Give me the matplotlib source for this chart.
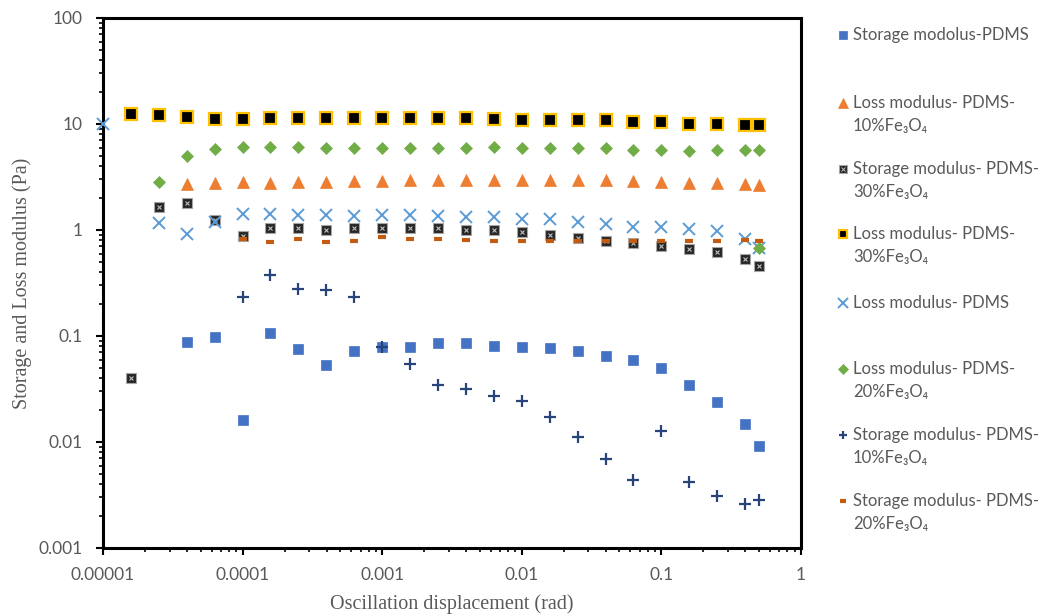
import numpy as np
import matplotlib
matplotlib.use("Agg")
import matplotlib.pyplot as plt
from matplotlib.lines import Line2D
from matplotlib.ticker import FixedLocator, FuncFormatter, LogLocator, NullFormatter

# oscillation displacement (rad), shared measurement grid
disp = [1.0e-5, 1.58e-5, 2.51e-5, 3.98e-5, 6.31e-5,
        1.0e-4, 1.58e-4, 2.51e-4, 3.98e-4, 6.31e-4,
        1.0e-3, 1.58e-3, 2.51e-3, 3.98e-3, 6.31e-3,
        1.0e-2, 1.58e-2, 2.51e-2, 3.98e-2, 6.31e-2,
        0.1, 0.158, 0.251, 0.398, 0.5]

x_storage_pdms = disp[3:]
storage_pdms = [0.087, 0.0986, 0.0161, 0.107, 0.075, 0.053, 0.072, 0.079, 0.079, 0.085, 0.085,
                0.081, 0.079, 0.0776, 0.0727, 0.065, 0.060, 0.0496, 0.0345, 0.024, 0.0148, 0.0092]

x_loss_10 = disp[3:]
loss_10 = [2.72, 2.75, 2.86, 2.80, 2.86, 2.86, 2.92, 2.90, 2.96, 2.96, 2.96,
           2.96, 2.96, 2.96, 2.96, 2.96, 2.90, 2.86, 2.80, 2.75, 2.70, 2.66]

x_storage_30 = disp[1:]
storage_30 = [0.040, 1.66, 1.79, 1.24, 0.88, 1.04, 1.04, 0.99, 1.04, 1.04, 1.04, 1.04,
              1.00, 1.00, 0.95, 0.90, 0.835, 0.79, 0.75, 0.71, 0.66, 0.62, 0.53, 0.46]

x_loss_30 = disp[1:]
loss_30 = [12.4, 12.2, 11.7, 11.1, 11.1, 11.3, 11.3, 11.3, 11.3, 11.3, 11.3, 11.3,
           11.4, 11.2, 11.0, 11.0, 10.8, 10.8, 10.5, 10.4, 10.1, 10.1, 9.85, 9.85]

x_loss_pdms = [disp[0]] + disp[2:]
loss_pdms = [10.1, 1.16, 0.92, 1.20, 1.42, 1.42, 1.38, 1.38, 1.37, 1.38, 1.38, 1.37,
             1.34, 1.34, 1.27, 1.27, 1.18, 1.14, 1.07, 1.06, 1.02, 0.98, 0.82, 0.68]

x_loss_20 = disp[2:] + [0.5]
loss_20 = [2.86, 5.02, 5.81, 6.10, 6.10, 6.10, 5.97, 5.97, 5.97, 5.97, 5.97, 5.90,
           6.10, 5.90, 5.90, 6.00, 5.90, 5.69, 5.69, 5.52, 5.69, 5.69, 5.69, 0.68]

x_storage_10 = disp[5:]
storage_10 = [0.235, 0.376, 0.277, 0.272, 0.235, 0.079, 0.054, 0.0345, 0.0314, 0.0273,
              0.0245, 0.0171, 0.0112, 0.00687, 0.00438, 0.0128, 0.00422, 0.00312, 0.0026, 0.00284]

x_storage_20 = disp[5:]
storage_20 = [0.82, 0.776, 0.82, 0.776, 0.79, 0.85, 0.82, 0.82, 0.805, 0.79,
              0.79, 0.79, 0.79, 0.79, 0.79, 0.79, 0.79, 0.79, 0.80, 0.78]

labels = ["Storage modolus-PDMS",
          "Loss modulus- PDMS-\n10%Fe\u2083O\u2084",
          "Storage modulus- PDMS-\n30%Fe\u2083O\u2084",
          "Loss modulus- PDMS-\n30%Fe\u2083O\u2084",
          "Loss modulus- PDMS",
          "Loss modulus- PDMS-\n20%Fe\u2083O\u2084",
          "Storage modulus- PDMS-\n10%Fe\u2083O\u2084",
          "Storage modulus- PDMS-\n20%Fe\u2083O\u2084"]

x_ticks = [1e-5, 1e-4, 1e-3, 1e-2, 1e-1, 1]
y_ticks = [1e-3, 1e-2, 1e-1, 1, 10, 100]

series = [
    (x_storage_pdms, storage_pdms),
    (x_loss_10, loss_10),
    (x_storage_30, storage_30),
    (x_loss_30, loss_30),
    (x_loss_pdms, loss_pdms),
    (x_loss_20, loss_20),
    (x_storage_10, storage_10),
    (x_storage_20, storage_20),
]

# marker styles in legend order (Excel draws later series on top)
styles = [
    dict(marker='s', ms=7.5, mfc='#4472C4', mec='#4472C4', mew=0.5),
    dict(marker='^', ms=8.5, mfc='#ED7D31', mec='#ED7D31', mew=0.5),
    dict(marker='s', ms=6.5, mfc='#262626', mec='#A6A6A6', mew=0.8),
    dict(marker='s', ms=8, mfc='black', mec='#FFC000', mew=1.6),
    dict(marker='x', ms=8.5, mfc='none', mec='#5B9BD5', mew=1.4),
    dict(marker='D', ms=6.5, mfc='#70AD47', mec='#70AD47', mew=0.5),
    dict(marker='+', ms=8, mfc='none', mec='#264478', mew=1.6),
    dict(marker='_', ms=5.5, mfc='#C55A11', mec='#C55A11', mew=3.0),
]

text_gray = '#595959'
serif = ['Liberation Serif', 'DejaVu Serif']
sans = ['Lato', 'DejaVu Sans']

fig = plt.figure(figsize=(10.44, 6.16), dpi=100)
ax = fig.add_axes([103 / 1044, 1 - 548 / 616, (801 - 103) / 1044, (548 - 18) / 616])

for (xs, ys), st in zip(series, styles):
    ax.plot(xs, ys, linestyle='none', clip_on=False, zorder=3, **st)
    if st['mec'] == '#A6A6A6':
        # dotted pattern of the gray squares
        ax.plot(xs, ys, linestyle='none', marker='x', ms=3.5, mec='#BFBFBF',
                mew=0.8, clip_on=False, zorder=3)

ax.set_xscale('log')
ax.set_yscale('log')
ax.set_xlim(1e-5, 1)
ax.set_ylim(1e-3, 100)

fmt = FuncFormatter(lambda v, p: np.format_float_positional(v, trim='-'))
ax.xaxis.set_major_locator(FixedLocator(x_ticks))
ax.yaxis.set_major_locator(FixedLocator(y_ticks))
ax.xaxis.set_major_formatter(fmt)
ax.yaxis.set_major_formatter(fmt)
ax.xaxis.set_minor_locator(LogLocator(base=10, subs=np.arange(2, 10), numticks=20))
ax.yaxis.set_minor_locator(LogLocator(base=10, subs=np.arange(2, 10), numticks=20))
ax.xaxis.set_minor_formatter(NullFormatter())
ax.yaxis.set_minor_formatter(NullFormatter())

for s in ax.spines.values():
    s.set_linewidth(2.2)
    s.set_color('black')

ax.tick_params(which='major', direction='out', length=5, width=1.5, color='black',
               labelsize=12.5, labelcolor=text_gray)
ax.tick_params(axis='y', which='major', pad=10)
ax.tick_params(axis='x', which='major', pad=9)
ax.tick_params(which='minor', direction='out', length=3, width=1.2, color='black')
for lab in ax.get_xticklabels() + ax.get_yticklabels():
    lab.set_family(sans)

ax.set_xlabel('Oscillation displacement (rad)', family=serif, fontsize=14.5, color=text_gray)
ax.set_ylabel('Storage and Loss modulus (Pa)', family=serif, fontsize=14.5, color=text_gray)
ax.xaxis.set_label_coords(0.5, -0.088)
ax.yaxis.set_label_coords(-0.102, 0.5)

# legend drawn by hand: first line of each entry next to its marker
entry_y = [35, 103, 169, 234, 303, 369, 435, 501]
for y, lab, st in zip(entry_y, labels, styles):
    yf = 1 - y / 616
    lst = dict(st)
    lst['ms'] = st['ms'] * 0.8
    fig.add_artist(Line2D([843 / 1044], [yf], linestyle='none', transform=fig.transFigure, **lst))
    if st['mec'] == '#A6A6A6':
        fig.add_artist(Line2D([843 / 1044], [yf], linestyle='none', marker='x', ms=2.8,
                              mec='#BFBFBF', mew=0.7, transform=fig.transFigure))
    for i, line in enumerate(lab.split('\n')):
        fig.text(853 / 1044, 1 - (y + 23 * i) / 616, line, family=sans, fontsize=12,
                 color=text_gray, va='center', ha='left')

fig.savefig('out.png', dpi=100)
